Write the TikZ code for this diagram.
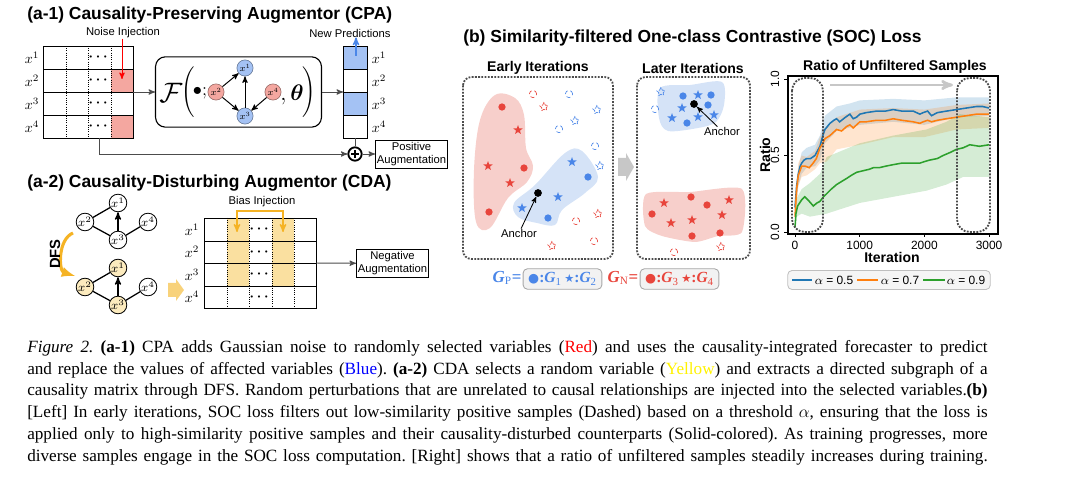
\RequirePackage{fix-cm}
\documentclass[tikz,border=0pt]{standalone}
\usepackage{fontspec}
\usepackage{amsmath}
\setmainfont{Liberation Serif}
\setsansfont{Liberation Sans}
\newfontfamily\symfont{DejaVu Sans}
\usetikzlibrary{arrows,positioning,shapes.geometric}

\definecolor{redcell}{HTML}{F4A7A0}
\definecolor{redpt}{HTML}{E8453C}
\definecolor{bluecell}{HTML}{A4C2F4}
\definecolor{bluept}{HTML}{4A86E8}
\definecolor{yelcell}{HTML}{FAE0A0}
\definecolor{yelnode}{HTML}{FCEBBE}
\definecolor{yelarrow}{HTML}{F8D27A}
\definecolor{gold}{HTML}{F5B324}
\definecolor{redblob}{HTML}{F7CFCB}
\definecolor{blueblob}{HTML}{D5E3F7}
\definecolor{mplblue}{HTML}{1F77B4}
\definecolor{mplorange}{HTML}{FF7F0E}
\definecolor{mplgreen}{HTML}{2CA02C}

\begin{document}
\begin{tikzpicture}[x=0.025cm,y=-0.025cm,>=stealth',
    panel title/.style={anchor=west,inner sep=0,font=\fontsize{12.4}{14}\selectfont\sffamily\bfseries},
    sub title/.style={inner sep=0,font=\fontsize{10}{12}\selectfont\sffamily\bfseries},
    small label/.style={inner sep=0,font=\fontsize{8}{9.5}\selectfont\sffamily},
    tick label/.style={inner sep=0,font=\fontsize{8.5}{9}\selectfont\sffamily},
    row label/.style={inner sep=0,font=\fontsize{10}{10}\selectfont},
    cell dots/.style={inner sep=0,font=\fontsize{10}{10}\selectfont},
    aug box/.style={draw,line width=0.6pt,align=center,inner sep=1pt,minimum width=51pt,
      minimum height=20pt,font=\fontsize{8}{9.3}\selectfont\sffamily},
    f var/.style={circle,draw=#1!60!black,fill=#1,inner sep=0,minimum size=11.5pt,
      font=\fontsize{6.5}{6.5}\selectfont},
    g var/.style={circle,draw,fill=#1,inner sep=0,line width=0.6pt,minimum size=12.5pt,
      font=\fontsize{8.5}{8.5}\selectfont},
    g edge/.style={line width=0.9pt},
    flow/.style={->,line width=0.7pt,black!70},
    dot box/.style={draw=black!70,densely dotted,line width=1.3pt,rounded corners=6pt},
    p dot/.style={circle,fill=#1,inner sep=0,minimum size=5.2pt},
    p star/.style={star,star points=5,star point ratio=2.4,fill=#1,inner sep=0,minimum size=7pt},
    h dot/.style={circle,draw=#1,densely dashed,line width=0.45pt,inner sep=0,minimum size=5.2pt},
    h star/.style={star,star points=5,star point ratio=2.2,draw=#1,densely dashed,line width=0.45pt,
      inner sep=0,minimum size=7pt},
    anchor pt/.style={circle,fill=black,inner sep=0,minimum size=5.5pt},
    g box/.style={draw=black!35,fill=black!5,rounded corners=3pt,line width=0.6pt,inner sep=1pt,
      minimum width=56pt,minimum height=14.5pt,font=\fontsize{11}{12}\selectfont}]

  \useasboundingbox (0,0) rectangle (1080,484);

  % (a-1) CPA
  \node[panel title] (titleA1) at (27,15) {(a-1) Causality-Preserving Augmentor (CPA)};

  % input table
  \fill[redcell] (111,69) rectangle (133,92);
  \fill[redcell] (111,115) rectangle (133,138);
  \foreach \y in {69,92,115}
    \draw[line width=0.6pt] (43,\y) -- (133,\y);
  \foreach \x in {66,88,111}
    \draw[line width=0.6pt,densely dotted] (\x,46) -- (\x,138);
  \draw[line width=0.6pt] (43,46) rectangle (133,138);
  \foreach \i/\y in {1/57.5,2/80.5,3/103.5,4/126.5} {
    \node[row label] (inL\i) at (32,\y) {$x^{\i}$};
    \node[cell dots] (inD\i) at (99.5,\y) {$\boldsymbol{\cdots}$};
  }
  \node[small label] (noise) at (123,33) {Noise Injection};
  \coordinate (noiseEnd) at (122,79);
  \draw[->,red,line width=0.7pt] (noise.south -| noiseEnd) -- (noiseEnd);

  % forecaster
  \node[draw,line width=0.8pt,rounded corners=7pt,minimum width=118pt,minimum height=50pt] (fbox) at (238.5,92) {};
  \node (calF) at (171,93) {\fontsize{20}{20}\selectfont$\mathcal{F}$};
  \node (lpar) at (188,92) {\fontsize{13}{13}\selectfont$\Biggl($};
  \node (bul) at (200,93) {\fontsize{13}{13}\selectfont$\bullet;$};
  \node[f var=redcell] (f2) at (216,92) {$x^2$};
  \node[f var=bluecell] (f1) at (245,68) {$x^1$};
  \node[f var=bluecell] (f3) at (245,116) {$x^3$};
  \node[f var=redcell] (f4) at (273,92) {$x^4$};
  \draw[->,line width=0.7pt] (f2) -- (f1);
  \draw[->,line width=0.7pt] (f2) -- (f3);
  \draw[->,line width=0.7pt] (f3) -- (f1);
  \draw[->,line width=0.7pt] (f4) -- (f3);
  \node (theta) at (292,95) {\fontsize{16}{16}\selectfont$,\boldsymbol{\theta}$};
  \node (rpar) at (309,92) {\fontsize{13}{13}\selectfont$\Biggr)$};

  % new predictions
  \fill[bluecell] (343,46) rectangle (367,69);
  \fill[bluecell] (343,92) rectangle (367,115);
  \foreach \y in {69,92,115}
    \draw[line width=0.6pt] (343,\y) -- (367,\y);
  \draw[line width=0.6pt] (343,46) rectangle (367,138);
  \foreach \i/\y in {1/57.5,2/80.5,3/103.5,4/126.5}
    \node[row label] (outL\i) at (379,\y) {$x^{\i}$};
  \node[small label] (newpred) at (350,33) {New Predictions};
  \coordinate (predStart) at (356,56);
  \draw[->,bluept,line width=1pt] (predStart) -- (predStart |- newpred.south);

  \coordinate (inR) at (133,92);
  \coordinate (outL) at (343,92);
  \draw[flow] (inR) -- (fbox);
  \draw[flow] (fbox) -- (outL);

  % sum
  \node[circle,draw,line width=1.3pt,inner sep=0,minimum size=9.5pt] (plus) at (355,154) {};
  \draw[line width=1.4pt] ([yshift=2.7pt]plus.center) -- ([yshift=-2.7pt]plus.center);
  \draw[line width=1.4pt] ([xshift=2.7pt]plus.center) -- ([xshift=-2.7pt]plus.center);
  \coordinate (inB) at (99,138);
  \coordinate (outB) at (355,138);
  \draw[flow] (inB) |- (plus);
  \draw[line width=0.7pt,black!70] (outB) -- (plus);
  \node[aug box] (posaug) at (411.5,154) {Positive\\Augmentation};
  \draw[flow] (plus) -- (posaug);

  % (a-2) CDA
  \node[panel title] (titleA2) at (27,183) {(a-2) Causality-Disturbing Augmentor (CDA)};

  % causal graph
  \node[g var=white] (t1) at (118,203) {$x^1$};
  \node[g var=white] (t2) at (85,222) {$x^2$};
  \node[g var=white] (t3) at (118,240) {$x^3$};
  \node[g var=white] (t4) at (148,222) {$x^4$};
  \draw[g edge] (t2) -- (t1);
  \draw[g edge,->] (t3) -- (t1);
  \draw[g edge] (t2) -- (t3);
  \draw[g edge] (t4) -- (t3);

  % subgraph after DFS
  \node[g var=yelnode] (s1) at (118,268) {$x^1$};
  \node[g var=yelnode] (s2) at (85,287) {$x^2$};
  \node[g var=yelnode] (s3) at (118,305) {$x^3$};
  \node[g var=white] (s4) at (148,287) {$x^4$};
  \draw[g edge] (s2) -- (s1);
  \draw[g edge,->] (s3) -- (s1);
  \draw[g edge] (s2) -- (s3);
  \draw[g edge] (s4) -- (s3);

  \coordinate (dfsTop) at (73,233);
  \coordinate (dfsBot) at (75,276);
  \draw[gold,line width=2.2pt,-latex] (dfsTop) to[bend right=70] (dfsBot);
  \node[rotate=90,inner sep=0,font=\fontsize{10.5}{12}\selectfont\sffamily\bfseries] (dfs) at (55,254) {DFS};

  \fill[yelarrow] (168,283) -- (176,283) -- (176,279) -- (184,290) -- (176,301) -- (176,297) -- (168,297) -- cycle;

  % perturbed table
  \fill[yelcell] (227,218) rectangle (249,286);
  \fill[yelcell] (272,218) rectangle (294,286);
  \foreach \y in {241,263,286}
    \draw[line width=0.6pt] (204,\y) -- (316,\y);
  \foreach \x in {227,249,272,294}
    \draw[line width=0.6pt,densely dotted] (\x,218) -- (\x,308);
  \draw[line width=0.6pt] (204,218) rectangle (316,308);
  \foreach \i/\y in {1/229.5,2/252,3/274.5,4/297} {
    \node[row label] (cdL\i) at (192,\y) {$x^{\i}$};
    \node[cell dots] (cdD\i) at (260.5,\y) {$\boldsymbol{\cdots}$};
  }
  \node[small label] (bias) at (262,202) {Bias Injection};
  \coordinate (biasL) at (237,232);
  \coordinate (biasM) at (260,211);
  \coordinate (biasR) at (283,232);
  \draw[gold,line width=1pt,<->] (biasL) |- (biasM) -| (biasR);

  \coordinate (cdR) at (316,263);
  \node[aug box] (negaug) at (392.5,263.5) {Negative\\Augmentation};
  \draw[flow] (cdR) -- (negaug);

  % (b) SOC loss
  \node[panel title] (titleB) at (463,38) {(b) Similarity-filtered One-class Contrastive (SOC) Loss};
  \node[sub title] (early) at (538,68) {Early Iterations};
  \node[sub title] (later) at (693,68) {Later Iterations};
  \draw[dot box] (463,77) rectangle (613,259);
  \draw[dot box] (637,77) rectangle (750,259);
  \fill[black!22] (618,158) -- (626,158) -- (626,153) -- (634,167) -- (626,181) -- (626,176) -- (618,176) -- cycle;

  % early iterations
  \fill[redblob] plot[smooth cycle,tension=0.6] coordinates {(495,95) (515,98) (524,115) (526,148) (533,166) (527,182) (508,198) (490,228) (476,222) (474,170) (480,120)};
  \fill[blueblob] plot[smooth cycle,tension=0.6] coordinates {(514,203) (535,185) (565,153) (582,151) (598,177) (585,193) (562,210) (555,225) (537,223) (518,217)};
  \foreach \px/\py [count=\k] in {502/107,524/168,489/212}
    \node[p dot=redpt] (erd\k) at (\px,\py) {};
  \foreach \px/\py [count=\k] in {518/130,488/166,510/183}
    \node[p star=redpt] (ers\k) at (\px,\py) {};
  \foreach \px/\py [count=\k] in {588/177,548/218}
    \node[p dot=bluept] (ebd\k) at (\px,\py) {};
  \foreach \px/\py [count=\k] in {572/162,558/197,522/208}
    \node[p star=bluept] (ebs\k) at (\px,\py) {};
  \foreach \px/\py [count=\k] in {533/94,576/221,594/241}
    \node[h dot=redpt] (ehrd\k) at (\px,\py) {};
  \foreach \px/\py [count=\k] in {544/107,598/214,552/246}
    \node[h star=redpt] (ehrs\k) at (\px,\py) {};
  \foreach \px/\py [count=\k] in {569/94,559/129,595/146}
    \node[h dot=bluept] (ehbd\k) at (\px,\py) {};
  \foreach \px/\py [count=\k] in {597/110,575/121,600/166}
    \node[h star=bluept] (ehbs\k) at (\px,\py) {};
  \node[anchor pt] (anc1) at (538,193) {};
  \node[small label] (anclbl1) at (519,233) {Anchor};
  \draw[->,line width=0.6pt] (anclbl1) -- (anc1);

  % later iterations
  \fill[blueblob] plot[smooth cycle,tension=0.5] coordinates {(660,88) (690,85) (722,82) (724,105) (716,122) (698,128) (668,131) (659,118)};
  \fill[redblob] plot[smooth cycle,tension=0.4] coordinates {(646,194) (690,192) (742,189) (742,232) (718,236) (695,242) (662,236) (645,226)};
  \foreach \px/\py [count=\k] in {683/96,711/95,708/105,687/123}
    \node[p dot=bluept] (lbd\k) at (\px,\py) {};
  \foreach \px/\py [count=\k] in {698/95,682/108,672/118,698/117,714/115}
    \node[p star=bluept] (lbs\k) at (\px,\py) {};
  \foreach \px/\py [count=\k] in {691/197,707/205,652/214,692/236,720/233}
    \node[p dot=redpt] (lrd\k) at (\px,\py) {};
  \foreach \px/\py [count=\k] in {664/203,729/200,671/223,692/220,722/215}
    \node[p star=redpt] (lrs\k) at (\px,\py) {};
  \node[h star=bluept] (lhbs1) at (661,92) {};
  \node[h dot=bluept] (lhbd1) at (655,109) {};
  \node[h dot=redpt] (lhrd1) at (674,252) {};
  \node[h star=redpt] (lhrs1) at (721,247) {};
  \node[anchor pt] (anc2) at (694,104) {};
  \node[small label] (anclbl2) at (722,131) {Anchor};
  \draw[->,line width=0.6pt] (anclbl2) -- (anc2);

  % groups
  \node[inner sep=0,text=bluept,font=\fontsize{12}{12}\selectfont] (gp) at (507,278) {\textbf{\textit{G}}\textsubscript{P}\textbf{=}};
  \node[g box,text=bluept] (gpbox) at (562.5,279) {{\symfont\fontsize{9}{9}\selectfont ●}\textbf{:}\textbf{\textit{G}}\textsubscript{1}\,{\symfont\fontsize{8}{8}\selectfont ★}\textbf{:}\textbf{\textit{G}}\textsubscript{2}};
  \node[inner sep=0,text=redpt,font=\fontsize{12}{12}\selectfont] (gn) at (623,278) {\textbf{\textit{G}}\textsubscript{N}\textbf{=}};
  \node[g box,text=redpt] (gnbox) at (679.5,279) {{\symfont\fontsize{9}{9}\selectfont ●}\textbf{:}\textbf{\textit{G}}\textsubscript{3}\,{\symfont\fontsize{8}{8}\selectfont ★}\textbf{:}\textbf{\textit{G}}\textsubscript{4}};

  % ratio plot
  \node[sub title] (ratioT) at (895,67) {Ratio of Unfiltered Samples};
  \node[sub title,rotate=90] (ratioY) at (765,155) {Ratio};
  \node[sub title] (iterX) at (892,257) {Iteration};
  \begin{scope}[shift={(795,232)},x=0.0016175cm,y=3.825cm]
    \fill[mplblue,opacity=0.2] plot coordinates {(0,0.20) (51,0.42) (103,0.52) (180,0.55) (309,0.57) (386,0.63) (463,0.76) (643,0.82) (849,0.84) (1003,0.86) (1518,0.87) (2000,0.86) (2500,0.88) (3000,0.88)}
      -- plot coordinates {(3000,0.76) (2500,0.75) (2000,0.70) (1518,0.72) (1003,0.70) (643,0.66) (463,0.58) (386,0.47) (309,0.43) (180,0.42) (103,0.38) (51,0.30) (0,0.12)} -- cycle;
    \fill[mplorange,opacity=0.2] plot coordinates {(0,0.14) (51,0.45) (103,0.50) (180,0.49) (309,0.53) (386,0.62) (463,0.68) (643,0.75) (1003,0.80) (1518,0.81) (2000,0.80) (2500,0.83) (3000,0.84)}
      -- plot coordinates {(3000,0.68) (2500,0.67) (2000,0.62) (1518,0.62) (1003,0.57) (643,0.54) (489,0.46) (386,0.45) (309,0.41) (180,0.37) (103,0.36) (51,0.30) (0,0.06)} -- cycle;
    \fill[mplgreen,opacity=0.2] plot coordinates {(0,0.05) (26,0.22) (103,0.28) (231,0.32) (386,0.38) (489,0.49) (1003,0.58) (1518,0.63) (2032,0.67) (2341,0.72) (2547,0.77) (3000,0.75)}
      -- plot coordinates {(3000,0.36) (2600,0.36) (2341,0.31) (2032,0.27) (1518,0.23) (1003,0.19) (489,0.12) (231,0.10) (103,0.12) (26,0.10) (0,0.01)} -- cycle;
    \draw[mplblue,line width=1.1pt] plot coordinates {(0,0.16) (25,0.30) (51,0.38) (80,0.43) (103,0.45) (140,0.47) (180,0.48) (240,0.48) (309,0.50) (386,0.56) (430,0.63) (463,0.67) (540,0.71) (600,0.73) (643,0.74) (690,0.72) (720,0.73) (780,0.75) (849,0.77) (900,0.74) (950,0.75) (1003,0.77) (1100,0.78) (1261,0.79) (1400,0.79) (1518,0.80) (1650,0.79) (1827,0.79) (1930,0.77) (1981,0.78) (2050,0.79) (2110,0.76) (2200,0.78) (2341,0.79) (2496,0.80) (2650,0.81) (2805,0.82) (2900,0.82) (3000,0.81)};
    \draw[mplorange,line width=1.1pt] plot coordinates {(0,0.10) (25,0.28) (51,0.37) (103,0.43) (160,0.43) (220,0.42) (280,0.45) (330,0.48) (386,0.55) (430,0.58) (463,0.61) (540,0.63) (643,0.67) (720,0.66) (800,0.69) (849,0.70) (900,0.68) (1003,0.72) (1100,0.72) (1261,0.73) (1400,0.73) (1518,0.74) (1650,0.73) (1827,0.72) (1930,0.71) (1981,0.72) (2050,0.73) (2110,0.72) (2200,0.73) (2341,0.74) (2496,0.75) (2650,0.76) (2805,0.77) (3000,0.77)};
    \draw[mplgreen,line width=1.1pt] plot coordinates {(0,0.03) (15,0.12) (40,0.17) (103,0.21) (150,0.23) (200,0.21) (283,0.17) (340,0.19) (386,0.20) (440,0.23) (489,0.25) (560,0.28) (643,0.31) (720,0.33) (798,0.35) (870,0.37) (952,0.39) (1050,0.40) (1150,0.41) (1210,0.42) (1300,0.42) (1400,0.43) (1518,0.44) (1650,0.45) (1775,0.45) (1930,0.45) (2000,0.46) (2084,0.47) (2200,0.48) (2290,0.50) (2400,0.52) (2496,0.54) (2600,0.55) (2701,0.57) (2850,0.56) (3000,0.57)};
    % axes
    \foreach \t [count=\k] in {0,1000,2000,3000} {
      \draw[line width=0.6pt] (\t,-0.013) -- (\t,-0.035);
      \node[tick label] (xt\k) at (\t,-0.085) {\t};
    }
    \foreach \r [count=\k] in {0.0,0.5,1.0} {
      \draw[line width=0.6pt] (-108,\r) -- (-170,\r);
      \node[tick label,rotate=90] (yt\k) at (-310,\r) {\r};
    }
  \end{scope}
  \draw[line width=0.8pt] (788,76) rectangle (998,234);
  \draw[dot box,rounded corners=9pt] (792,78) rectangle (823,232);
  \draw[dot box,rounded corners=9pt] (957,78) rectangle (990,232);
  \coordinate (trendA) at (830,85);
  \coordinate (trendB) at (953,85);
  \draw[->,black!22,line width=1.8pt] (trendA) -- (trendB);

  % legend
  \node[draw=black!25,fill=black!4,rounded corners=3pt,line width=0.6pt,minimum width=144pt,minimum height=13.5pt,inner sep=0] (legbox) at (889,280) {};
  \foreach \c/\xa/\xb/\xt/\v [count=\k] in {mplblue/792/812/834/0.5,mplorange/857/878/900/0.7,mplgreen/923/945/966/0.9} {
    \draw[\c,line width=1.6pt] (\xa,280) -- (\xb,280);
    \node[inner sep=0,font=\fontsize{8.5}{9}\selectfont\sffamily] (leg\k) at (\xt,280) {$\alpha$ = \v};
  }

  % caption
  \node[anchor=north west,inner sep=0,font=\fontsize{12.2}{15.5}\selectfont] (caption) at (27,340) {\parbox[t]{683pt}{\frenchspacing\parfillskip=0pt\relax
    \textit{Figure 2.} \textbf{(a-1)} CPA adds Gaussian noise to randomly selected variables ({\color{red}Red}) and uses the causality-integrated forecaster to predict\linebreak
    and replace the values of affected variables ({\color{blue}Blue}). \textbf{(a-2)} CDA selects a random variable ({\color{yellow}Yellow}) and extracts a directed subgraph of a\linebreak
    causality matrix through DFS. Random perturbations that are unrelated to causal relationships are injected into the selected variables.\textbf{(b)}\linebreak{}
    [Left] In early iterations, SOC loss filters out low-similarity positive samples (Dashed) based on a threshold $\alpha$, ensuring that the loss is\linebreak
    applied only to high-similarity positive samples and their causality-disturbed counterparts (Solid-colored). As training progresses, more\linebreak
    diverse samples engage in the SOC loss computation. [Right] shows that a ratio of unfiltered samples steadily increases during training.}};
\end{tikzpicture}
\end{document}
